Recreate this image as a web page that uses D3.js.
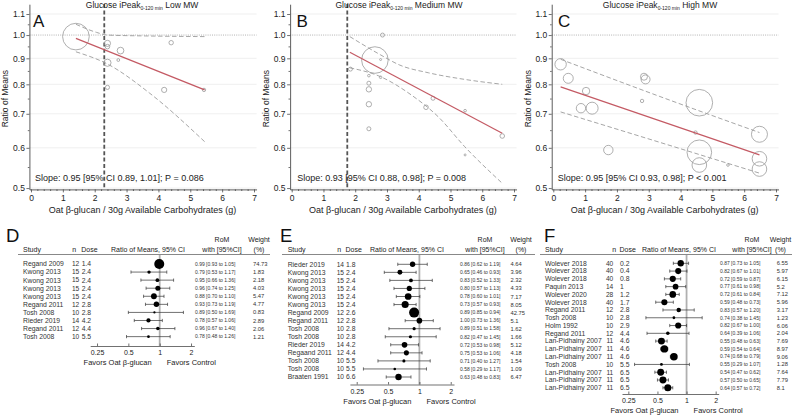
<!DOCTYPE html>
<html><head><meta charset="utf-8">
<script src="https://cdn.jsdelivr.net/npm/d3@7"></script>
<style>body{margin:0;background:#fff}svg{display:block;font-family:"Liberation Sans",Arial,sans-serif}</style>
</head><body><svg id="c" width="792" height="415"></svg>
<script>
// ---------- DATA: meta-regression bubble panels ----------
const xTickVals = [0,1,2,3,4,5,6,7];
const yTickVals = [0.5,0.6,0.7,0.8,0.9,1.0,1.1];
const xLabel = "Oat β-glucan / 30g Available Carbohydrates (g)";
const yLabel = "Ratio of Means";

// A: Low MW
const doseA = [1.41, 2.40, 2.40, 2.40, 2.40, 2.81, 2.74, 4.18, 4.40, 5.43];
const romA  = [0.993, 0.963, 0.949, 0.882, 0.789, 0.932, 0.893, 0.780, 0.966, 0.780];
const bubWA = [74.73, 4.03, 2.18, 5.47, 1.83, 4.77, 0.83, 2.89, 2.06, 1.21];
const fitXA = [1.41, 5.45], fitYA = [0.985, 0.78];
const upXA = [1.41, 2.06, 2.4, 3.6, 5.45], upYA = [1.05, 1.012, 1.0, 0.996, 0.993];
const loXA = [1.41, 2.4, 3.73, 5.45], loYA = [0.927, 0.877, 0.768, 0.617];
const cutA = 2.3;
const slopeA = "Slope: 0.95 [95% CI 0.89, 1.01]; P = 0.086";

// B: Medium MW
const doseB = [1.85, 2.43, 2.43, 2.43, 2.43, 2.43, 2.62, 2.86, 2.80, 2.80, 4.23, 4.45, 5.46, 5.46, 6.63];
const romB  = [0.857, 0.654, 0.832, 0.804, 0.782, 0.731, 0.893, 1.000, 0.895, 0.826, 0.721, 0.751, 0.710, 0.581, 0.633];
const bubWB = [1.69, 1.69, 0.71, 1.69, 3.07, 3.07, 74.6, 1.69, 0.42, 0.71, 2.23, 1.69, 0.71, 0.42, 2.23];
const fitXB = [1.83, 6.63], fitYB = [0.925, 0.641];
const upXB = [1.83, 2.8, 3.4, 4.3, 5.45, 6.63], upYB = [0.993, 0.914, 0.873, 0.843, 0.818, 0.80];
const loXB = [1.83, 2.8, 3.77, 4.61, 5.45, 6.63], loYB = [0.862, 0.828, 0.762, 0.691, 0.603, 0.511];
const cutB = 1.75;
const slopeB = "Slope: 0.93 [95% CI 0.88, 0.98]; P = 0.008";

// C: High MW
const doseC = [0.23, 0.47, 0.87, 1.03, 1.22, 1.73, 2.85, 2.79, 2.90, 4.47, 4.59, 4.59, 4.59, 5.49, 6.48, 6.48, 6.48];
const romC  = [0.876, 0.822, 0.718, 0.776, 0.718, 0.594, 0.828, 0.742, 0.818, 0.643, 0.555, 0.588, 0.736, 0.555, 0.545, 0.571, 0.638];
const bubWC = [13.7, 10.5, 9.3, 5.8, 15.2, 9.3, 5.2, 1.2, 8.5, 1.2, 22.5, 63.8, 74.6, 0.7, 22.5, 22.5, 27.0];
const fitXC = [0.23, 6.48], fitYC = [0.791, 0.581];
const upXC = [0.23, 3.35, 6.48], upYC = [0.896, 0.757, 0.643];
const loXC = [0.23, 3.35, 6.48], loYC = [0.706, 0.615, 0.535];
const slopeC = "Slope: 0.95 [95% CI 0.93, 0.98]; P < 0.001";

// ---------- DATA: forest plots ----------
const fTicks = [0.25, 0.5, 1, 2];
const fTickLabels = ["0.25", "0.5", "1", "2"];

const studyD = ["Regand 2009","Kwong 2013","Kwong 2013","Kwong 2013","Kwong 2013","Regand 2011","Tosh 2008","Rieder 2019","Regand 2011","Tosh 2008"];
const nD    = [12,15,15,15,15,12,10,14,12,10];
const doseD = [1.4,2.4,2.4,2.4,2.4,2.8,2.8,4.2,4.4,5.5];
const romD  = [0.99,0.79,0.95,0.96,0.88,0.93,0.89,0.78,0.96,0.78];
const loD   = [0.93,0.53,0.66,0.74,0.70,0.73,0.50,0.57,0.67,0.48];
const hiD   = [1.05,1.17,1.36,1.25,1.10,1.19,1.69,1.06,1.40,1.26];
const wD    = [74.73,1.83,2.18,4.03,5.47,4.77,0.83,2.89,2.06,1.21];

const studyE = ["Rieder 2019","Kwong 2013","Kwong 2013","Kwong 2013","Kwong 2013","Kwong 2013","Regand 2009","Regand 2011","Tosh 2008","Tosh 2008","Rieder 2019","Regaand 2011","Tosh 2008","Tosh 2008","Braaten 1991"];
const nE    = [14,15,15,15,15,15,12,12,10,10,14,12,10,10,10];
const doseE = [1.8,2.4,2.4,2.4,2.4,2.4,2.6,2.8,2.8,2.8,4.2,4.4,5.5,5.5,6.6];
const romE  = [0.86,0.65,0.83,0.80,0.78,0.73,0.89,1.00,0.89,0.82,0.72,0.75,0.71,0.58,0.63];
const loE   = [0.62,0.46,0.52,0.57,0.60,0.57,0.85,0.73,0.51,0.47,0.53,0.53,0.40,0.29,0.48];
const hiE   = [1.19,0.93,1.33,1.13,1.01,0.93,0.94,1.36,1.58,1.45,0.98,1.06,1.27,1.17,0.83];
const wE    = [4.64,3.96,2.32,4.33,7.17,8.05,42.75,5.1,1.62,1.66,5.12,4.18,1.54,1.09,6.47];

const studyF = ["Wolever 2018","Wolever 2018","Wolever 2018","Paquin 2013","Wolever 2020","Wolever 2018","Regand 2011","Tosh 2008","Holm 1992","Regand 2011","Lan-Pidhainy 2007","Lan-Pidhainy 2007","Lan-Pidhainy 2007","Tosh 2008","Lan-Pidhainy 2007","Lan-Pidhainy 2007","Lan-Pidhainy 2007"];
const nF    = [40,40,40,14,28,40,12,10,10,12,11,11,11,10,11,11,11];
const doseF = [0.2,0.4,0.8,1,1.2,1.7,2.8,2.8,2.9,4.4,4.6,4.6,4.6,5.5,6.5,6.5,6.5];
const romF  = [0.87,0.82,0.72,0.77,0.72,0.59,0.83,0.74,0.82,0.64,0.55,0.59,0.74,0.55,0.54,0.57,0.64];
const loF   = [0.73,0.67,0.59,0.61,0.61,0.48,0.57,0.38,0.67,0.39,0.48,0.54,0.68,0.29,0.47,0.50,0.57];
const hiF   = [1.05,1.01,0.87,0.98,0.84,0.73,1.20,1.45,1.00,1.06,0.63,0.64,0.79,1.07,0.62,0.65,0.72];
const wF    = [6.55,5.97,6.15,5.2,7.12,5.96,3.17,1.23,6.06,2.04,7.69,8.97,9.06,1.28,7.64,7.79,8.1];

// ---------- DRAWING ----------
const svg = d3.select("#c");
const FONT_DARK = "#222";

function bubblePanel(p) {
  const k = (p.x7 - p.x0) / 7;
  const x = d3.scaleLinear().domain([-0.05, 7.08]).range([p.x0 - 0.05 * k, p.x7 + 0.08 * k]);
  const y = d3.scaleLog().domain([1.15, 0.497]).range([4.2, 189.4]);
  const r = d3.scaleSqrt().domain([0, 100]).range([0, 15.4]);
  const g = svg.append("g");
  const [xa, xb] = x.range();

  g.selectAll("line.grid").data(yTickVals.filter(v => v !== 1)).join("line")
    .attr("x1", xa).attr("x2", xb).attr("y1", d => y(d)).attr("y2", d => y(d))
    .attr("stroke", "#ebebeb").attr("stroke-width", 0.8);
  g.append("line").attr("x1", xa).attr("x2", xb).attr("y1", y(1)).attr("y2", y(1))
    .attr("stroke", "#aaa").attr("stroke-width", 0.9).attr("stroke-dasharray", "1,1.2");

  if (p.cut != null) {
    g.append("line").attr("x1", x(p.cut)).attr("x2", x(p.cut)).attr("y1", 4).attr("y2", y(0.497))
      .attr("stroke", "#555").attr("stroke-width", 1.8).attr("stroke-dasharray", "4,2.4");
  }

  const pts = d3.zip(p.dose, p.rom, p.w);
  g.selectAll("circle").data(pts).join("circle")
    .attr("cx", d => x(d[0])).attr("cy", d => y(d[1])).attr("r", d => r(d[2]))
    .attr("fill", "none").attr("stroke", "#9a9a9a").attr("stroke-width", 0.8);

  const ln = d3.line().x(d => x(d[0])).y(d => y(d[1])).curve(d3.curveMonotoneX);
  [[p.upX, p.upY], [p.loX, p.loY]].forEach(([a, b]) => {
    g.append("path").datum(d3.zip(a, b)).attr("d", ln).attr("fill", "none")
      .attr("stroke", "#9c9c9c").attr("stroke-width", 0.9).attr("stroke-dasharray", "4.5,2.5");
  });
  g.append("path").datum(d3.zip(p.fitX, p.fitY)).attr("d", ln).attr("fill", "none")
    .attr("stroke", "#c45a64").attr("stroke-width", 1.2);

  // axes
  const axY = y(0.497);
  g.append("g").attr("transform", `translate(0,${axY})`)
    .call(d3.axisBottom(x).tickValues(xTickVals).tickFormat(d3.format("d")).tickSize(3).tickSizeOuter(0).tickPadding(2.5));
  g.append("g").attr("transform", `translate(0,${axY})`)
    .call(d3.axisBottom(x).tickValues(d3.range(0, 7.01, 0.2).filter(v => Math.abs(v - Math.round(v)) > 0.01)).tickFormat("").tickSize(1.6).tickSizeOuter(0))
    .select(".domain").remove();
  g.append("g").attr("transform", `translate(${xa},0)`)
    .call(d3.axisLeft(y).tickValues(yTickVals).tickFormat(d3.format(".1f")).tickSize(3).tickSizeOuter(0).tickPadding(1.5));
  g.append("g").attr("transform", `translate(${xa},0)`)
    .call(d3.axisLeft(y).tickValues([0.55,0.65,0.75,0.85,0.95,1.05]).tickFormat("").tickSize(1.6).tickSizeOuter(0))
    .select(".domain").remove();
  g.selectAll(".domain").attr("stroke", "#333").attr("stroke-width", 0.8);
  g.selectAll(".tick line").attr("stroke", "#333").attr("stroke-width", 0.7);
  g.selectAll(".tick text").attr("font-size", 8.5).attr("fill", FONT_DARK).attr("font-family", "Liberation Sans, Arial, sans-serif");

  // texts
  g.append("text").attr("x", (p.x0 + p.x7) / 2).attr("y", 212.5).attr("text-anchor", "middle")
    .attr("font-size", 9).attr("fill", FONT_DARK).text(xLabel);
  g.append("text").attr("transform", `translate(${xa - 21},${(y(1.1) + axY) / 2 - 3}) rotate(-90)`)
    .attr("text-anchor", "middle").attr("font-size", 8.5).attr("fill", FONT_DARK).text(yLabel);
  const t = g.append("text").attr("x", p.titleX).attr("y", 8).attr("text-anchor", "middle")
    .attr("font-size", 8.5).attr("fill", FONT_DARK);
  t.append("tspan").text("Glucose iPeak");
  t.append("tspan").attr("font-size", 5).attr("dy", 1.8).text("0-120 min");
  t.append("tspan").attr("dy", -1.8).text(" " + p.mw);
  g.append("text").attr("x", p.letterX).attr("y", 27.3).attr("font-size", 17).attr("fill", "#111").text(p.letter);
  g.append("text").attr("x", p.slopeX).attr("y", 181.3).attr("font-size", 9).attr("fill", FONT_DARK).text(p.slope);
}

bubblePanel({x0: 31, x7: 254, dose: doseA, rom: romA, w: bubWA, fitX: fitXA, fitY: fitYA,
  upX: upXA, upY: upYA, loX: loXA, loY: loYA, cut: cutA, slope: slopeA, mw: "Low MW",
  titleX: 142, letterX: 33, letter: "A", slopeX: 35});
bubblePanel({x0: 291.7, x7: 514, dose: doseB, rom: romB, w: bubWB, fitX: fitXB, fitY: fitYB,
  upX: upXB, upY: upYB, loX: loXB, loY: loYB, cut: cutB, slope: slopeB, mw: "Medium MW",
  titleX: 399, letterX: 296.5, letter: "B", slopeX: 297.3});
bubblePanel({x0: 553.3, x7: 776, dose: doseC, rom: romC, w: bubWC, fitX: fitXC, fitY: fitYC,
  upX: upXC, upY: upYC, loX: loXC, loY: loYC, cut: null, slope: slopeC, mw: "High MW",
  titleX: 660, letterX: 558, letter: "C", slopeX: 557.7});

function forest(p) {
  const n = p.study.length;
  const g = svg.append("g");
  const x = d3.scaleLog().domain([0.215, 2.15]).range(p.xr);
  const yr = d3.scaleLinear().domain([0, n - 1]).range([p.top, p.top + (n - 1) * p.step]);
  const r = d3.scaleSqrt().domain([0, 16]).range([0, 5]).clamp(true);
  const fmt = d3.format(".2f");

  g.append("text").attr("x", p.letterX).attr("y", 241.7).attr("font-size", 18.5).attr("fill", "#111").text(p.letter);
  const hdr = (txt, xx, yy, anchor) => g.append("text").attr("x", xx).attr("y", yy)
    .attr("text-anchor", anchor).attr("font-size", 7).attr("fill", FONT_DARK).text(txt);
  hdr("RoM", p.romHdrX, 241.5, "middle");
  hdr("Weight", p.wHdrX, 241.5, "middle");
  hdr("Study", p.studyX, 251.5, "start");
  hdr("n", p.nHdrX, 251.5, "start");
  hdr("Dose", p.doseX - 0.5, 251.5, "start");
  hdr("Ratio of Means, 95% CI", p.ratioHdrX, 251.5, "middle");
  hdr("with [95%CI]", p.romHdrX, 251.5, "middle");
  hdr("(%)", p.wHdrX, 251.5, "middle");
  g.append("line").attr("x1", p.lineX0).attr("x2", p.lineX1).attr("y1", 254.5).attr("y2", 254.5)
    .attr("stroke", "#555").attr("stroke-width", 0.7);

  // reference line at 1
  g.append("line").attr("x1", x(1)).attr("x2", x(1)).attr("y1", 255).attr("y2", p.axisY)
    .attr("stroke", "#b0b0b0").attr("stroke-width", 1.8);

  const rows = d3.range(n).map(i => ({i, s: p.study[i], n: p.n[i], d: p.dose[i], m: p.rom[i], lo: p.lo[i], hi: p.hi[i], w: p.w[i]}));
  const rg = g.selectAll("g.row").data(rows).join("g").attr("class", "row");
  rg.append("text").attr("x", p.studyX).attr("y", d => yr(d.i)).attr("dy", "0.35em").attr("font-size", 6.8).attr("fill", "#333").text(d => d.s);
  rg.append("text").attr("x", p.nEndX).attr("y", d => yr(d.i)).attr("dy", "0.35em").attr("text-anchor", "end").attr("font-size", 6.6).attr("fill", "#333").text(d => d.n);
  rg.append("text").attr("x", p.doseX).attr("y", d => yr(d.i)).attr("dy", "0.35em").attr("font-size", 6.8).attr("fill", "#333").text(d => d.d);
  rg.append("text").attr("x", p.romX).attr("y", d => yr(d.i)).attr("dy", "0.35em").attr("font-size", 5).attr("fill", "#333")
    .text(d => `${fmt(d.m)} [${fmt(d.lo)} to ${fmt(d.hi)}]`);
  rg.append("text").attr("x", p.wX).attr("y", d => yr(d.i)).attr("dy", "0.35em").attr("font-size", 5.8).attr("fill", "#333").text(d => String(d.w));
  rg.append("line").attr("x1", d => x(d.lo)).attr("x2", d => x(d.hi)).attr("y1", d => yr(d.i)).attr("y2", d => yr(d.i))
    .attr("stroke", "#333").attr("stroke-width", 0.7);
  rg.append("line").attr("x1", d => x(d.lo)).attr("x2", d => x(d.lo)).attr("y1", d => yr(d.i) - 1.6).attr("y2", d => yr(d.i) + 1.6)
    .attr("stroke", "#333").attr("stroke-width", 0.7);
  rg.append("line").attr("x1", d => x(d.hi)).attr("x2", d => x(d.hi)).attr("y1", d => yr(d.i) - 1.6).attr("y2", d => yr(d.i) + 1.6)
    .attr("stroke", "#333").attr("stroke-width", 0.7);
  rg.append("circle").attr("cx", d => x(d.m)).attr("cy", d => yr(d.i)).attr("r", d => r(d.w)).attr("fill", "#000");

  const ax = g.append("g").attr("transform", `translate(0,${p.axisY})`)
    .call(d3.axisBottom(x).tickValues(fTicks).tickFormat((d, i) => fTickLabels[i]).tickSize(-2.5).tickSizeOuter(0).tickPadding(4.2));
  ax.select(".domain").attr("stroke", "#333").attr("stroke-width", 0.7);
  ax.selectAll(".tick line").attr("stroke", "#333").attr("stroke-width", 0.7);
  ax.selectAll(".tick text").attr("font-size", 7).attr("fill", FONT_DARK).attr("font-family", "Liberation Sans, Arial, sans-serif");
  g.append("text").attr("x", x(1) - 8).attr("y", p.axisY + 19).attr("text-anchor", "end").attr("font-size", 7.5).attr("fill", FONT_DARK).text("Favors Oat β-glucan");
  g.append("text").attr("x", x(1) + 7).attr("y", p.axisY + 19).attr("text-anchor", "start").attr("font-size", 7.5).attr("fill", FONT_DARK).text("Favors Control");
}

forest({letter: "D", study: studyD, n: nD, dose: doseD, rom: romD, lo: loD, hi: hiD, w: wD,
  letterX: 6, studyX: 23, nHdrX: 72.3, nEndX: 79.3, doseX: 81.7, ratioHdrX: 148, romHdrX: 222, wHdrX: 259, romX: 195, wX: 253,
  lineX0: 18, lineX1: 270, top: 264, step: 8.07, xr: [90.2, 194.3], axisY: 346});
forest({letter: "E", study: studyE, n: nE, dose: doseE, rom: romE, lo: loE, hi: hiE, w: wE,
  letterX: 280, studyX: 287.7, nHdrX: 337.3, nEndX: 344, doseX: 346, ratioHdrX: 407, romHdrX: 485, wHdrX: 521, romX: 460, wX: 510.5,
  lineX0: 282, lineX1: 535, top: 264.3, step: 8.05, xr: [349.9, 454], axisY: 384.5});
forest({letter: "F", study: studyF, n: nF, dose: doseF, rom: romF, lo: loF, hi: hiF, w: wF,
  letterX: 544, studyX: 545, nHdrX: 612.3, nEndX: 613.3, doseX: 620, ratioHdrX: 679, romHdrX: 752, wHdrX: 780.5, romX: 720, wX: 776.7,
  lineX0: 540, lineX1: 792, top: 263.3, step: 7.78, xr: [622, 718.7], axisY: 394});
</script></body></html>
